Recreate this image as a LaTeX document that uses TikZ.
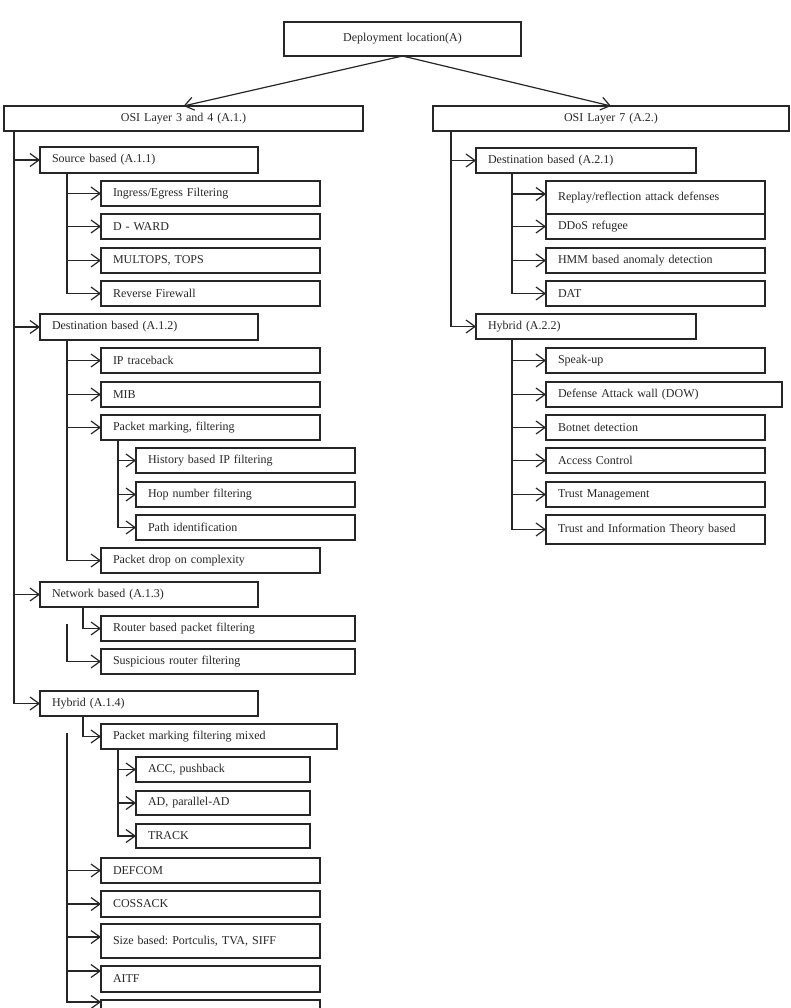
\documentclass[tikz,border=0pt]{standalone}
\usepackage{fontspec}
\setmainfont{Liberation Serif}
\frenchspacing
\usetikzlibrary{arrows.meta,calc}
\tikzset{
  bx/.style={draw=black!85, line width=1.2pt, anchor=north west, inner xsep=12pt, inner ysep=0pt,
    outer sep=0pt, align=left, text=black!85, font=\fontsize{12}{14}\selectfont\frenchspacing},
  cbx/.style={bx, align=center},
  ln/.style={draw=black!85, line width=1.2pt},
  arr/.style={ln, -{Straight Barb[length=9pt,width=13pt,line width=1.2pt]}},
}
\newcommand\bx[7][bx]{%
  \pgfmathsetmacro\bxw{#5-#3-24}%
  \pgfmathsetmacro\bxh{#6-#4}%
  \node[#1, text width=\bxw pt, minimum height=\bxh pt] (#2) at (#3,#4) {#7};}
\begin{document}
\begin{tikzpicture}[x=1pt,y=-1pt]
\useasboundingbox (0,0) rectangle (790,1008);
\clip (0,0) rectangle (790,1008);
% top levels
\bx[cbx]{top}{284}{22}{521}{56}{Deployment location(A)}
\bx[cbx]{osia}{4}{106}{363}{131}{OSI Layer 3 and 4 (A.1.)}
\bx[cbx]{osib}{433}{106}{789}{131}{OSI Layer 7 (A.2.)}
\draw[arr] (top.south) -- (osia.north);
\draw[arr] (top.south) -- (osib.north);
% ---------- left ----------
\coordinate (ta) at (14,131);
\bx{src}{40}{147}{258}{173}{Source based (A.1.1)}
\bx{dst}{40}{314}{258}{340}{Destination based (A.1.2)}
\bx{net}{40}{582}{258}{607}{Network based (A.1.3)}
\bx{hyba}{40}{691}{258}{716}{Hybrid (A.1.4)}
\draw[ln] (ta) |- ($(hyba.west)+(-9,0)$);
\draw[arr] (src.west -| ta) -- (src.west);
\draw[arr] (dst.west -| ta) -- (dst.west);
\draw[arr] (net.west -| ta) -- (net.west);
\draw[arr] ($(hyba.west)+(-10,0)$) -- (hyba.west);
% source children
\bx{ing}{101}{181}{320}{206}{Ingress/Egress Filtering}
\bx{dward}{101}{214}{320}{239}{D - WARD}
\bx{mult}{101}{248}{320}{273}{MULTOPS, TOPS}
\bx{revf}{101}{281}{320}{306}{Reverse Firewall}
\coordinate (sa) at (67,173);
\draw[ln] (sa) |- ($(revf.west)+(-9,0)$);
\foreach \n in {ing,dward,mult,revf} \draw[arr] (\n.west -| sa) -- (\n.west);
% destination children
\bx{ipt}{101}{348}{320}{373}{IP traceback}
\bx{mib}{101}{382}{320}{407}{MIB}
\bx{pmf}{101}{415}{320}{440}{Packet marking, filtering}
\bx{pdrop}{101}{548}{320}{573}{Packet drop on complexity}
\coordinate (da) at (67,340);
\draw[ln] (da) |- ($(pdrop.west)+(-9,0)$);
\foreach \n in {ipt,mib,pmf,pdrop} \draw[arr] (\n.west -| da) -- (\n.west);
\bx{hist}{136}{448}{355}{473}{History based IP filtering}
\bx{hop}{136}{482}{355}{507}{Hop number filtering}
\bx{path}{136}{515}{355}{540}{Path identification}
\coordinate (pa) at (118,440);
\draw[ln] (pa) |- ($(path.west)+(-9,0)$);
\foreach \n in {hist,hop,path} \draw[arr] (\n.west -| pa) -- (\n.west);
% network children
\bx{router}{101}{616}{355}{641}{Router based packet filtering}
\bx{susp}{101}{649}{355}{674}{Suspicious router filtering}
\coordinate (na) at (83,607);
\draw[arr] (na) |- (router.west);
\coordinate (nb) at (67,624);
\draw[arr] (nb) |- (susp.west);
% hybrid children
\bx{pmfm}{101}{724}{337}{749}{Packet marking filtering mixed}
\coordinate (ha) at (83,716);
\draw[arr] (ha) |- (pmfm.west);
\bx{acc}{136}{757}{310}{782}{ACC, pushback}
\bx{adp}{136}{791}{310}{815}{AD, parallel-AD}
\bx{track}{136}{824}{310}{848}{TRACK}
\coordinate (ma) at (118,749);
\draw[ln] (ma) |- ($(track.west)+(-9,0)$);
\foreach \n in {acc,adp,track} \draw[arr] (\n.west -| ma) -- (\n.west);
\bx{defcom}{101}{858}{320}{883}{DEFCOM}
\bx{coss}{101}{891}{320}{917}{COSSACK}
\bx{size}{101}{924}{320}{958}{Size based: Portculis, TVA, SIFF}
\bx{aitf}{101}{966}{320}{992}{AITF}
\bx{last}{101}{1000}{320}{1030}{}
\coordinate (hb) at (67,733);
\path ($(size.north west)+(0,13)$) coordinate (sizein)
      ($(aitf.north west)+(0,5)$) coordinate (aitfin)
      ($(last.north west)+(0,2)$) coordinate (lastin);
\draw[ln] (hb) |- ($(lastin)+(-9,0)$);
\draw[arr] (defcom.west -| hb) -- (defcom.west);
\draw[arr] (coss.west -| hb) -- (coss.west);
\draw[arr] (sizein -| hb) -- (sizein);
\draw[arr] (aitfin -| hb) -- (aitfin);
\draw[arr] (lastin -| hb) -- (lastin);
% ---------- right ----------
\coordinate (tb) at (451,131);
\bx{dstb}{476}{148}{696}{173}{Destination based (A.2.1)}
\bx{hybb}{476}{314}{696}{339}{Hybrid (A.2.2)}
\draw[ln] (tb) |- ($(hybb.west)+(-9,0)$);
\draw[arr] (dstb.west -| tb) -- (dstb.west);
\draw[arr] (hybb.west -| tb) -- (hybb.west);
\bx{replay}{546}{181}{765}{214}{Replay/reflection attack defenses}
\bx{ddos}{546}{214}{765}{239}{DDoS refugee}
\bx{hmm}{546}{248}{765}{273}{HMM based anomaly detection}
\bx{dat}{546}{281}{765}{306}{DAT}
\coordinate (ra) at (512,173);
\path ($(replay.north west)+(0,13)$) coordinate (replayin);
\draw[ln] (ra) |- ($(dat.west)+(-9,0)$);
\draw[arr] (replayin -| ra) -- (replayin);
\foreach \n in {ddos,hmm,dat} \draw[arr] (\n.west -| ra) -- (\n.west);
\bx{speak}{546}{348}{765}{373}{Speak-up}
\bx{dow}{546}{382}{782}{407}{Defense Attack wall (DOW)}
\bx{botnet}{546}{415}{765}{440}{Botnet detection}
\bx{access}{546}{448}{765}{473}{Access Control}
\bx{trustm}{546}{482}{765}{507}{Trust Management}
\bx{trusti}{546}{515}{765}{544}{Trust and Information Theory based}
\coordinate (rb) at (512,339);
\draw[ln] (rb) |- ($(trusti.west)+(-9,0)$);
\foreach \n in {speak,dow,botnet,access,trustm,trusti} \draw[arr] (\n.west -| rb) -- (\n.west);
\end{tikzpicture}
\end{document}
